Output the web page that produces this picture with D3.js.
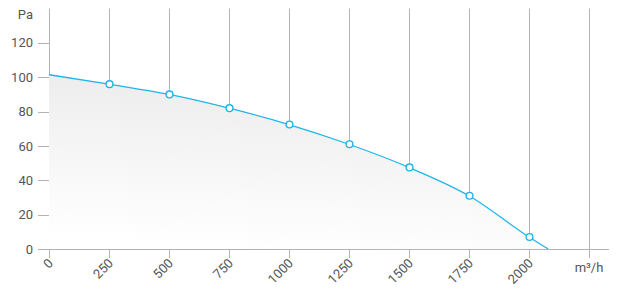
<!DOCTYPE html>
<html>
<head>
<meta charset="utf-8">
<script src="https://cdn.jsdelivr.net/npm/d3@7"></script>
<style>
  body { margin: 0; background: #fff; }
  text { font-family: Roboto, "Noto Sans", sans-serif; }
</style>
</head>
<body>
<div id="chart"></div>
<script>
// airflow (m³/h) vs pressure (Pa)
var flow = [0, 250, 500, 750, 1000, 1250, 1500, 1750, 2000, 2080];
var pressure = [101.5, 96, 90, 82, 72.5, 61, 47.5, 31, 7, 0];
var xTicks = [0, 250, 500, 750, 1000, 1250, 1500, 1750, 2000, 2250];
var yTicks = [0, 20, 40, 60, 80, 100, 120];
var xUnit = "m³/h", yUnit = "Pa";

var width = 620, height = 298;
var margin = { top: 8.6, right: 11, bottom: 49, left: 49 };

var svg = d3.select("#chart").append("svg")
  .attr("width", width)
  .attr("height", height);

var x = d3.scaleLinear().domain([0, 2250]).range([margin.left, 589]);
var y = d3.scaleLinear().domain([0, 140]).range([249, margin.top]);

var grad = svg.append("defs").append("linearGradient")
  .attr("id", "areaFill")
  .attr("x1", "0.6").attr("y1", "0").attr("x2", "0.4").attr("y2", "1");
grad.append("stop").attr("offset", "0%").attr("stop-color", "#ebebeb");
grad.append("stop").attr("offset", "100%").attr("stop-color", "#ffffff");

var data = flow.map(function(d, i) { return { q: d, p: pressure[i] }; });

// vertical grid lines
svg.append("g").selectAll("line")
  .data(xTicks)
  .enter().append("line")
  .attr("x1", function(d) { return x(d) + 0.5; })
  .attr("x2", function(d) { return x(d) + 0.5; })
  .attr("y1", y(140))
  .attr("y2", 258)
  .attr("stroke", "#b3b3b3")
  .attr("stroke-width", 1);

// area under curve
var area = d3.area()
  .x(function(d) { return x(d.q); })
  .y0(y(0))
  .y1(function(d) { return y(d.p); })
  .curve(d3.curveMonotoneX);

svg.append("path")
  .datum(data)
  .attr("d", area)
  .attr("fill", "url(#areaFill)");

// y axis ticks + labels
var yAxis = svg.append("g");
yAxis.selectAll("line")
  .data(yTicks)
  .enter().append("line")
  .attr("x1", 38).attr("x2", x(0))
  .attr("y1", function(d) { return Math.round(y(d)) + 0.5; })
  .attr("y2", function(d) { return Math.round(y(d)) + 0.5; })
  .attr("stroke", "#b3b3b3");
yAxis.selectAll("text")
  .data(yTicks)
  .enter().append("text")
  .attr("x", 33)
  .attr("y", function(d) { return y(d); })
  .attr("dy", "0.35em")
  .attr("text-anchor", "end")
  .attr("font-size", "13px")
  .attr("fill", "#555")
  .text(function(d) { return d; });

svg.append("text")
  .attr("x", 33)
  .attr("y", 19)
  .attr("text-anchor", "end")
  .attr("font-size", "13px")
  .attr("fill", "#555")
  .text(yUnit);

// x axis line
svg.append("line")
  .attr("x1", 38).attr("x2", 609)
  .attr("y1", y(0) + 0.5).attr("y2", y(0) + 0.5)
  .attr("stroke", "#b3b3b3");

// x labels, rotated
svg.append("g").selectAll("text")
  .data(xTicks.slice(0, -1))
  .enter().append("text")
  .attr("text-anchor", "end")
  .attr("font-size", "13px")
  .attr("fill", "#555")
  .attr("transform", function(d) {
    return "translate(" + (x(d) + 5) + "," + 264 + ")rotate(-45)";
  })
  .text(function(d) { return d; });

svg.append("text")
  .attr("x", x(2250))
  .attr("y", 272)
  .attr("text-anchor", "middle")
  .attr("font-size", "13px")
  .attr("fill", "#555")
  .text(xUnit);

// curve
var line = d3.line()
  .x(function(d) { return x(d.q); })
  .y(function(d) { return y(d.p); })
  .curve(d3.curveMonotoneX);

svg.append("path")
  .datum(data)
  .attr("d", line)
  .attr("fill", "none")
  .attr("stroke", "#1fb5ea")
  .attr("stroke-width", 1.3);

// markers (not at the ends)
svg.append("g").selectAll("circle")
  .data(data.slice(1, -1))
  .enter().append("circle")
  .attr("cx", function(d) { return x(d.q) + 0.5; })
  .attr("cy", function(d) { return y(d.p); })
  .attr("r", 3.4)
  .attr("fill", "#fff")
  .attr("stroke", "#1fb5ea")
  .attr("stroke-width", 1.4);
</script>
</body>
</html>
